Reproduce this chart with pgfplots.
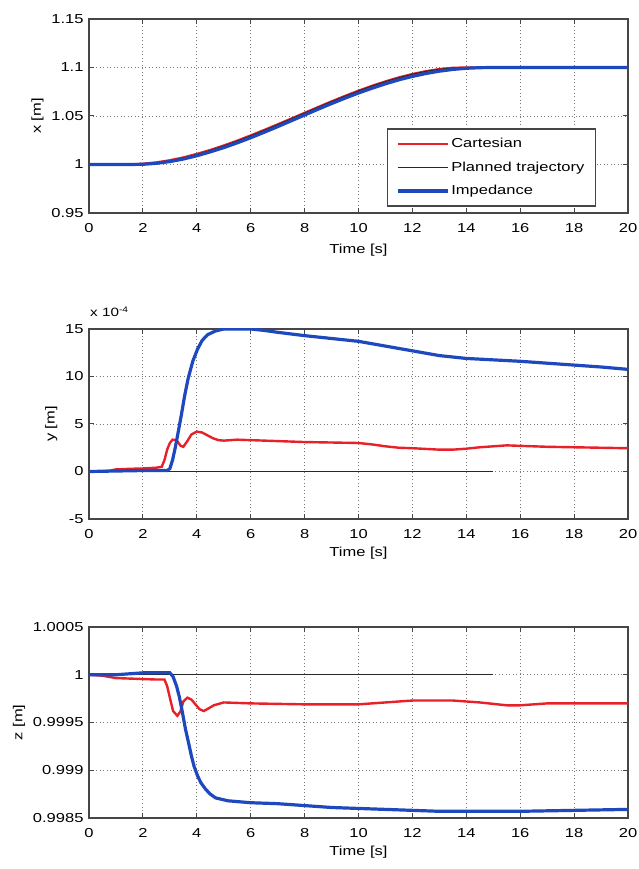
\documentclass[border=0pt]{standalone}
\usepackage{fontspec}
\setmainfont{Liberation Sans}[FakeStretch=1.27]
\usepackage{pgfplots}
\pgfplotsset{compat=1.18}

\definecolor{cart}{RGB}{232,32,40}
\definecolor{imp}{RGB}{30,72,190}
\definecolor{plan}{RGB}{40,40,40}
\definecolor{frame}{RGB}{70,70,70}

\pgfplotsset{
  every axis/.append style={
    font=\fontsize{13}{15}\selectfont,
    scale only axis,
    width=539pt,
    xmin=0, xmax=20,
    xtick={0,2,...,20},
    grid=major,
    major grid style={gray!95!black, line width=0.9pt, dash pattern=on 1pt off 2.5pt},
    axis line style={frame, line width=1.2pt},
    tick style={frame, line width=1pt},
    tick align=inside,
    major tick length=5pt,
    /pgf/number format/assume math mode=true,
    xticklabel style={anchor=center, yshift=-15pt},
    yticklabel style={xshift=-2pt},
    xlabel={Time [s]},
    xlabel style={at={(axis description cs:0.5,0)}, anchor=center, yshift=-34pt},
    ylabel style={yshift=1pt},
    clip=true,
  },
}

\begin{document}
\begin{tikzpicture}[x=1pt,y=1pt]
\path[use as bounding box] (0,0) rectangle (638,869);

% ---------------- x position ----------------
\begin{axis}[
  at={(89pt,656pt)}, anchor=south west,
  height=194pt,
  ymin=0.95, ymax=1.15,
  ytick={0.95,1,1.05,1.1,1.15},
  yticklabels={0.95,1,1.05,1.1,1.15},
  ylabel={x [m]},
  xlabel style={yshift=-3pt},
  legend style={at={(0.9406,0.4356)}, anchor=north east, draw=frame, line width=1.2pt,
    font=\fontsize{13}{15}\selectfont, row sep=11.5pt, inner xsep=9pt, inner ysep=9pt,
    nodes={inner xsep=2pt, inner ysep=0pt, text height=9.5pt, text depth=2.5pt},
    cells={anchor=west}},
  legend image code/.code={\draw[#1] (0pt,0pt) -- (50pt,0pt);},
]
\addplot[cart, line width=2.4pt] coordinates {
(0,1.0) (1.5,1.0) (2,1.0007) (2.5,1.0021) (3,1.0043) (3.5,1.0072) (4,1.0108)
(4.5,1.0149) (5,1.0195) (5.5,1.0245) (6,1.0299) (6.5,1.0355) (7,1.0413)
(7.5,1.0472) (8,1.0532) (8.5,1.0591) (9,1.0650) (9.5,1.0706) (10,1.0760)
(10.5,1.0810) (11,1.0856) (11.5,1.0897) (12,1.0932) (12.5,1.0961) (13,1.0983)
(13.5,1.0996) (14,1.1) (20,1.1)};
\addlegendentry{Cartesian}
\addplot[plan, line width=1pt] coordinates {
(0,1.0) (1.5,1.0) (2,1.00047) (2.5,1.00182) (3,1.00397) (3.5,1.00686) (4,1.0104)
(4.5,1.01452) (5,1.01913) (5.5,1.02417) (6,1.02955) (6.5,1.0352) (7,1.04104)
(7.5,1.047) (8,1.053) (8.5,1.05896) (9,1.0648) (9.5,1.07045) (10,1.07583)
(10.5,1.08087) (11,1.08548) (11.5,1.0896) (12,1.09314) (12.5,1.09603)
(13,1.09818) (13.5,1.09953) (14,1.1) (15,1.1)};
\addlegendentry{Planned trajectory}
\addplot[imp, line width=3.2pt] coordinates {
(0,1.0) (1.5,1.0) (2,1.0002) (2.5,1.0012) (3,1.0030) (3.5,1.0056) (4,1.0090)
(4.5,1.0130) (5,1.0174) (5.5,1.0223) (6,1.0276) (6.5,1.0332) (7,1.0390)
(7.5,1.0450) (8,1.0510) (8.5,1.0570) (9,1.0628) (9.5,1.0684) (10,1.0737)
(10.5,1.0786) (11,1.0832) (11.5,1.0873) (12,1.0908) (12.5,1.0938) (13,1.0962)
(13.5,1.0980) (14,1.0992) (14.5,1.0998) (15,1.1) (20,1.1)};
\addlegendentry{Impedance}
\end{axis}

% ---------------- y position (x 10^-4) ----------------
\begin{axis}[
  name=yplot,
  at={(89pt,350pt)}, anchor=south west,
  height=190pt,
  ymin=-5, ymax=15,
  ytick={-5,0,5,10,15},
  ylabel={y [m]},
]
\addplot[cart, line width=2.4pt] coordinates {
(0,0) (0.5,0.02) (0.8,0.1) (1.0,0.22) (1.5,0.28) (2.0,0.32) (2.5,0.4) (2.7,0.5)
(2.8,1.2) (2.9,2.3) (3.0,3.0) (3.1,3.35) (3.25,3.3) (3.4,2.7) (3.5,2.6)
(3.65,3.2) (3.8,3.9) (4.0,4.2) (4.2,4.1) (4.4,3.8) (4.6,3.5) (4.8,3.3)
(5.0,3.25) (5.5,3.35) (6,3.3) (7,3.2) (8,3.1) (9,3.05) (10,3.0) (10.5,2.85)
(11,2.65) (11.5,2.5) (12,2.45) (13,2.3) (13.5,2.3) (14,2.4) (14.5,2.55)
(15,2.65) (15.5,2.75) (16,2.7) (17,2.6) (18,2.55) (19,2.5) (20,2.45)};
\addplot[plan, line width=1.2pt] coordinates {(0,0) (15,0)};
\addplot[imp, line width=3.2pt] coordinates {
(0,0) (1,0.05) (2,0.1) (2.9,0.1) (3.0,0.3) (3.1,1.2) (3.2,2.5) (3.3,4.0)
(3.43,6.0) (3.55,8.0) (3.68,9.8) (3.85,11.6) (4.03,12.9) (4.2,13.8) (4.4,14.4)
(4.7,14.8) (5.0,15.0) (6.0,15.0) (6.5,14.85) (7,14.65) (8,14.3) (9,14.0)
(10,13.7) (11,13.2) (12,12.7) (13,12.2) (14,11.9) (15,11.75) (16,11.6)
(17,11.4) (18,11.2) (19,11.0) (20,10.75)};
\end{axis}
% scale factor of the y axis
\node[anchor=south west, inner sep=0pt, font=\fontsize{12}{14}\selectfont]
  at ([xshift=1pt,yshift=12pt]yplot.north west) {x 10\textsuperscript{-4}};

% ---------------- z position ----------------
\begin{axis}[
  at={(89pt,51pt)}, anchor=south west,
  height=191pt,
  ymin=0.9985, ymax=1.0005,
  ytick={0.9985,0.999,0.9995,1,1.0005},
  yticklabels={0.9985,0.999,0.9995,1,1.0005},
  ylabel={z [m]},
]
\addplot[cart, line width=2.4pt] coordinates {
(0,1.0) (0.5,0.99999) (1,0.999965) (1.5,0.99996) (2,0.999955) (2.5,0.99995)
(2.8,0.99995) (2.9,0.99988) (3.0,0.99976) (3.12,0.99962) (3.28,0.99957)
(3.4,0.99962) (3.5,0.99972) (3.65,0.99976) (3.8,0.99974) (3.95,0.99969)
(4.1,0.99964) (4.26,0.99962) (4.45,0.99965) (4.63,0.99968) (5.0,0.99971)
(6,0.9997) (8,0.99969) (10,0.99969) (11,0.99971) (12,0.99973) (13,0.99973)
(13.5,0.99973) (14.5,0.99971) (15.5,0.99968) (16,0.99968) (17,0.9997)
(18,0.9997) (20,0.9997)};
\addplot[plan, line width=1.2pt] coordinates {(0,1.0) (15,1.0)};
\addplot[imp, line width=3.2pt] coordinates {
(0,1.0) (1,1.0) (2,1.00002) (3.0,1.00002) (3.12,0.99998) (3.25,0.99988)
(3.35,0.99977) (3.47,0.9996) (3.58,0.99943) (3.7,0.99928) (3.8,0.99915)
(3.9,0.99904) (4.03,0.99894) (4.15,0.99887) (4.33,0.9988) (4.5,0.99875)
(4.7,0.99871) (5.16,0.99868) (6,0.99866) (7,0.99865) (8,0.99863) (9,0.99861)
(10,0.9986) (11,0.99859) (12,0.99858) (13,0.99857) (14,0.99857) (16,0.99857)
(18,0.99858) (20,0.99859)};
\end{axis}
\end{tikzpicture}
\end{document}
